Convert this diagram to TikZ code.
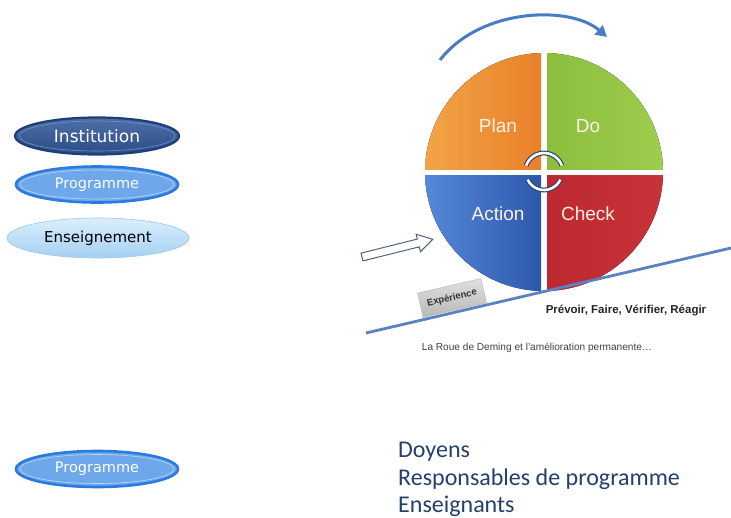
\documentclass[tikz,border=0pt]{standalone}
\usepackage{fontspec}
\setmainfont{Liberation Sans}
\newfontfamily\djv{DejaVu Sans}
\newfontfamily\crl{Carlito}
\usetikzlibrary{shapes.geometric,arrows.meta,calc}
\definecolor{instfill}{HTML}{2F5597}
\definecolor{instline}{HTML}{1E3E78}
\definecolor{instin}{HTML}{7090C8}
\definecolor{progfill}{HTML}{6FA8EA}
\definecolor{progline}{HTML}{2B7BDE}
\definecolor{progin}{HTML}{BCD6F5}
\definecolor{enstop}{HTML}{DAEFFC}
\definecolor{ensbot}{HTML}{A4D0F3}
\definecolor{ensline}{HTML}{9CC8EE}
\definecolor{txtblue}{HTML}{24406E}
\definecolor{arcblue}{HTML}{4A7CC4}
\definecolor{navy}{HTML}{2A3F6A}
\definecolor{groundblue}{RGB}{90,130,192}
\definecolor{harrowc}{RGB}{80,95,125}
\definecolor{orA}{RGB}{242,166,72}
\definecolor{orB}{RGB}{234,128,42}
\definecolor{grA}{RGB}{140,190,62}
\definecolor{grB}{RGB}{160,205,78}
\definecolor{blA}{RGB}{88,138,218}
\definecolor{blB}{RGB}{44,88,172}
\definecolor{rdA}{RGB}{190,40,48}
\definecolor{rdB}{RGB}{200,52,58}
\tikzset{
  ell/.style={ellipse, inner sep=0pt, align=center},
  inst/.style={ell, minimum width=164pt, minimum height=37pt, top color=instfill!85!white, bottom color=instfill!90!black, draw=instline, line width=2.2pt, text=white, font=\djv\fontsize{17}{20}\selectfont},
  prog/.style={ell, minimum width=162pt, minimum height=36pt, fill=progfill, draw=progline, line width=2.6pt, text=white, font=\djv\fontsize{14.5}{17}\selectfont},
  ens/.style={ell, minimum width=182pt, minimum height=40pt, top color=enstop, bottom color=ensbot, draw=ensline, line width=0.6pt, text=black, font=\djv\fontsize{15}{18}\selectfont},
  wheeltxt/.style={text=white!90!orange, font=\fontsize{19}{22}\selectfont},
  bottxt/.style={anchor=west, text=txtblue, font=\crl\fontsize{24}{28}\selectfont, inner sep=0pt},
  cyc/.style={navy, line width=1.1pt, double=white, double distance=2.6pt}
}
\begin{document}
\begin{tikzpicture}[x=1pt,y=-1pt]
\useasboundingbox (0,0) rectangle (731,517);
\fill[white] (0,0) rectangle (731,517);

% left ellipses
\node[inst] (inst) at (97,136) {Institution};
\draw[instin, line width=0.6pt] (97,136) ellipse [x radius=78pt, y radius=15pt];
\node[prog] (prog) at (97,184.5) {Programme};
\draw[progin, line width=0.6pt] (97,184.5) ellipse [x radius=77pt, y radius=14.5pt];
\node[ens] (ens) at (98,238) {Enseignement};

\node[prog] (prog2) at (97,469) {Programme};
\draw[progin, line width=0.6pt] (97,469) ellipse [x radius=77pt, y radius=14.5pt];

% Deming wheel
\coordinate (C) at (544,172);
\begin{scope}
\clip (C) circle[radius=119pt];
\fill[left color=orA, right color=orB] (420,50) rectangle (541,169);
\fill[left color=grA, right color=grB] (547,50) rectangle (670,169);
\fill[left color=blA, right color=blB] (420,175) rectangle (541,295);
\fill[left color=rdA, right color=rdB] (547,175) rectangle (670,295);
\end{scope}
\node[wheeltxt] (plan) at (498,126) {Plan};
\node[wheeltxt] (do) at (588,126) {Do};
\node[wheeltxt] (action) at (498,214) {Action};
\node[wheeltxt] (check) at (588,214) {Check};

% small circular arrows
\draw[cyc] ($(C)+(160:19pt)$) arc[start angle=160, end angle=20, radius=19pt];
\draw[cyc] ($(C)+(205:18pt)$) arc[start angle=205, end angle=335, radius=18pt];

% top arrow
\coordinate (a0) at (440,60);
\coordinate (a1) at (607,37);
\draw[arcblue, line width=3pt, -{Triangle[length=11pt,width=12pt]}] (a0) .. controls (480,8) and (570,5) .. (a1);

% hollow arrow
\begin{scope}[shift={(362,257)}, rotate=14]
\draw[harrowc, fill=white, line width=1pt, line join=miter] (0,-4) -- (58,-4) -- (58,-9) -- (73,0) -- (58,9) -- (58,4) -- (0,4) -- cycle;
\end{scope}

% ground line
\coordinate (g0) at (366,333);
\coordinate (g1) at (731,248);
\draw[groundblue, line width=2.8pt] (g0) -- (g1);

% experience box
\node[rotate=13, minimum width=65pt, minimum height=25pt, inner sep=1pt, top color=gray!25, bottom color=gray!55, draw=gray!60, line width=0.4pt, font=\bfseries\fontsize{9.5}{11}\selectfont, text=black!80] (exp) at (452,298) {Expérience};

\node[font=\bfseries\fontsize{11.5}{13}\selectfont, text=black!85] (pfvr) at (626,310) {Prévoir, Faire, Vérifier, Réagir};
\node[font=\fontsize{10.1}{12}\selectfont, text=black!75] (cap) at (537,348) {La Roue de Deming et l'amélioration permanente\ldots};

% bottom text
\node[bottxt] (t1) at (398,452) {Doyens};
\node[bottxt] (t2) at (398,479) {Responsables de programme};
\node[bottxt] (t3) at (398,506) {Enseignants};
\end{tikzpicture}
\end{document}
